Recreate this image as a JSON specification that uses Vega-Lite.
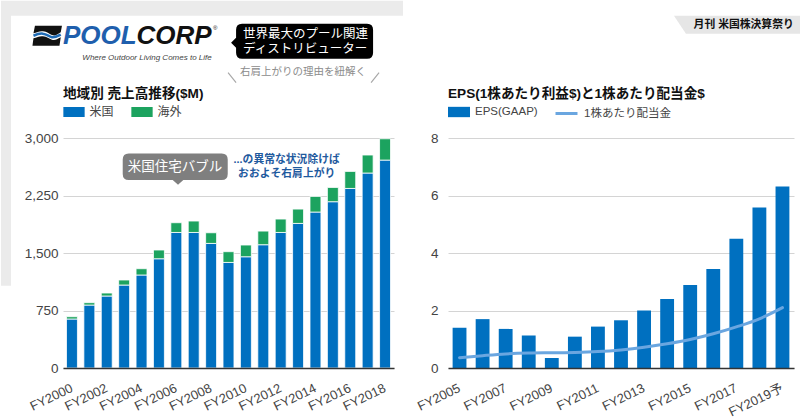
{
  "$schema": "https://vega.github.io/schema/vega-lite/v6.json",
  "padding": 0,
  "background": "white",
  "bounds": "flush",
  "spacing": 54,
  "resolve": {"legend": {"color": "independent", "fill": "independent", "stroke": "independent"}},
  "config": {
    "view": {"stroke": null},
    "font": "Liberation Sans, Noto Sans CJK JP, sans-serif",
    "axis": {"labelFont": "Liberation Sans, Noto Sans CJK JP, sans-serif", "labelColor": "#444", "ticks": false, "title": null},
    "legend": {"labelFont": "Liberation Sans, Noto Sans CJK JP, sans-serif", "labelColor": "#444", "padding": 0, "titlePadding": 0}
  },
  "hconcat": [
    {
      "width": 331,
      "height": 230,
      "data": {"values": [
        {"year": "FY2000", "region": "米国", "value": 639}, {"year": "FY2000", "region": "海外", "value": 30},
        {"year": "FY2001", "region": "米国", "value": 821}, {"year": "FY2001", "region": "海外", "value": 31},
        {"year": "FY2002", "region": "米国", "value": 939}, {"year": "FY2002", "region": "海外", "value": 39},
        {"year": "FY2003", "region": "米国", "value": 1082}, {"year": "FY2003", "region": "海外", "value": 66},
        {"year": "FY2004", "region": "米国", "value": 1213}, {"year": "FY2004", "region": "海外", "value": 82},
        {"year": "FY2005", "region": "米国", "value": 1425}, {"year": "FY2005", "region": "海外", "value": 114},
        {"year": "FY2006", "region": "米国", "value": 1768}, {"year": "FY2006", "region": "海外", "value": 127},
        {"year": "FY2007", "region": "米国", "value": 1768}, {"year": "FY2007", "region": "海外", "value": 149},
        {"year": "FY2008", "region": "米国", "value": 1625}, {"year": "FY2008", "region": "海外", "value": 139},
        {"year": "FY2009", "region": "米国", "value": 1377}, {"year": "FY2009", "region": "海外", "value": 140},
        {"year": "FY2010", "region": "米国", "value": 1451}, {"year": "FY2010", "region": "海外", "value": 153},
        {"year": "FY2011", "region": "米国", "value": 1608}, {"year": "FY2011", "region": "海外", "value": 178},
        {"year": "FY2012", "region": "米国", "value": 1768}, {"year": "FY2012", "region": "海外", "value": 175},
        {"year": "FY2013", "region": "米国", "value": 1886}, {"year": "FY2013", "region": "海外", "value": 187},
        {"year": "FY2014", "region": "米国", "value": 2034}, {"year": "FY2014", "region": "海外", "value": 204},
        {"year": "FY2015", "region": "米国", "value": 2169}, {"year": "FY2015", "region": "海外", "value": 186},
        {"year": "FY2016", "region": "米国", "value": 2342}, {"year": "FY2016", "region": "海外", "value": 222},
        {"year": "FY2017", "region": "米国", "value": 2543}, {"year": "FY2017", "region": "海外", "value": 235},
        {"year": "FY2018", "region": "米国", "value": 2712}, {"year": "FY2018", "region": "海外", "value": 278}
      ]},
      "layer": [
        {
          "data": {"values": [{}]},
          "mark": {"type": "point", "shape": "M-71,-137.3H331V-122.3H-61V147.7H-71Z", "size": 4, "filled": true, "fill": "#ebebeb", "strokeWidth": 0, "opacity": 1},
          "encoding": {
            "x": {"datum": "FY2000", "type": "nominal", "title": null},
            "y": {"datum": 3000, "type": "quantitative", "scale": {"domain": [0, 3000], "nice": false}, "title": null}
          }
        },
        {
          "mark": {"type": "bar", "stroke": "white", "strokeWidth": 0.8},
          "encoding": {
            "x": {"field": "year", "type": "nominal", "sort": null, "title": null,
              "scale": {"paddingInner": 0.37, "paddingOuter": 0.2},
              "axis": {"values": ["FY2000", "FY2002", "FY2004", "FY2006", "FY2008", "FY2010", "FY2012", "FY2014", "FY2016", "FY2018"],
                "labelAngle": -26, "labelAlign": "right", "labelBaseline": "middle", "labelPadding": 19, "labelFontSize": 13,
                "domainColor": "#333", "domainWidth": 1.5, "grid": false, "zindex": 1}},
            "y": {"field": "value", "type": "quantitative", "stack": "zero", "title": null,
              "scale": {"domain": [0, 3000], "nice": false},
              "axis": {"values": [0, 750, 1500, 2250, 3000], "labelExpr": "format(datum.value, ',')", "labelFontSize": 13.5, "labelPadding": 5,
                "domain": false, "grid": true, "gridColor": "#d4d4d4", "gridWidth": 1}},
            "color": {"field": "region", "type": "nominal", "sort": ["米国", "海外"],
              "scale": {"domain": ["米国", "海外"], "range": ["#0070c0", "#1ca35f"]},
              "legend": {"orient": "none", "legendX": 0, "legendY": -37, "direction": "horizontal", "title": null,
                "symbolType": "M-1,-0.47H1V0.47H-1Z", "symbolSize": 454, "symbolStrokeWidth": 0,
                "labelFontSize": 12, "labelOffset": 4.5, "columnPadding": 17}},
            "order": {"field": "region", "sort": "descending"}
          }
        },
        {
          "data": {"values": [{}]},
          "mark": {"type": "point", "shape": "M-37,-10L-10,-10L-11.2,-3.5C-15,-1 -17,0.5 -20,-0.8C-23,-2 -25,-4 -29,-4.5C-32,-5 -35,-3.5 -38.5,-2.5Z M-39.5,10L-12.5,10L-11.2,1.5C-15,3.5 -17,5 -20,4C-23,3 -25,1 -29,0.5C-32,0 -35,1.5 -38.5,2.5Z", "size": 4, "filled": true, "fill": "#111", "strokeWidth": 0, "opacity": 1},
          "encoding": {
            "x": {"datum": "FY2000", "type": "nominal", "title": null},
            "y": {"datum": 4334, "type": "quantitative", "scale": {"domain": [0, 3000], "nice": false}, "title": null}
          }
        },
        {
          "data": {"values": [{}]},
          "mark": {"type": "point", "shape": "M-38.5,0C-35,-1.5 -32,-2.5 -29,-2C-25,-1.5 -23,1 -20,1.5C-17,2 -14,0.5 -11.2,-1", "size": 4, "filled": false, "stroke": "#1f6bb5", "strokeWidth": 2.5, "opacity": 1},
          "encoding": {
            "x": {"datum": "FY2000", "type": "nominal", "title": null},
            "y": {"datum": 4334, "type": "quantitative", "scale": {"domain": [0, 3000], "nice": false}, "title": null}
          }
        },
        {
          "data": {"values": [{}]},
          "mark": {"type": "text", "text": "POOL", "align": "left", "baseline": "middle", "dx": -9, "font": "Liberation Sans", "fontSize": 26, "fontWeight": "bold", "fontStyle": "italic", "fill": "#1f5fad"},
          "encoding": {
            "x": {"datum": "FY2000", "type": "nominal", "title": null},
            "y": {"datum": 4334, "type": "quantitative", "scale": {"domain": [0, 3000], "nice": false}, "title": null}
          }
        },
        {
          "data": {"values": [{}]},
          "mark": {"type": "text", "text": "CORP", "align": "left", "baseline": "middle", "dx": -5, "font": "Liberation Sans", "fontSize": 26, "fontWeight": "bold", "fontStyle": "italic", "fill": "#111"},
          "encoding": {
            "x": {"datum": "FY2004", "type": "nominal", "title": null},
            "y": {"datum": 4334, "type": "quantitative", "scale": {"domain": [0, 3000], "nice": false}, "title": null}
          }
        },
        {
          "data": {"values": [{}]},
          "mark": {"type": "text", "text": "®", "align": "center", "baseline": "middle", "dx": 4, "fontSize": 6, "fill": "#111"},
          "encoding": {
            "x": {"datum": "FY2008", "type": "nominal", "title": null},
            "y": {"datum": 4439, "type": "quantitative", "scale": {"domain": [0, 3000], "nice": false}, "title": null}
          }
        },
        {
          "data": {"values": [{}]},
          "mark": {"type": "text", "text": "Where Outdoor Living Comes to Life", "align": "center", "baseline": "middle", "dx": 5.5, "font": "Liberation Sans", "fontSize": 8, "fontStyle": "italic", "fill": "#444"},
          "encoding": {
            "x": {"datum": "FY2004", "type": "nominal", "title": null},
            "y": {"datum": 4047, "type": "quantitative", "scale": {"domain": [0, 3000], "nice": false}, "title": null}
          }
        },
        {
          "data": {"values": [{}]},
          "mark": {"type": "point", "shape": "M-56,-17.5H69Q75,-17.5 75,-11.5V11.5Q75,17.5 69,17.5H-56Q-62,17.5 -62,11.5V6.5L-67,1.5L-62,-3.5V-11.5Q-62,-17.5 -56,-17.5Z", "size": 4, "filled": true, "fill": "#000", "strokeWidth": 0, "opacity": 1},
          "encoding": {
            "x": {"datum": "FY2013", "type": "nominal", "title": null},
            "y": {"datum": 4262.6, "type": "quantitative", "scale": {"domain": [0, 3000], "nice": false}, "title": null}
          }
        },
        {
          "data": {"values": [{}]},
          "mark": {"type": "text", "text": "世界最大のプール関連", "align": "left", "baseline": "middle", "dx": -55, "fontSize": 12.5, "fill": "white"},
          "encoding": {
            "x": {"datum": "FY2013", "type": "nominal", "title": null},
            "y": {"datum": 4356.5, "type": "quantitative", "scale": {"domain": [0, 3000], "nice": false}, "title": null}
          }
        },
        {
          "data": {"values": [{}]},
          "mark": {"type": "text", "text": "ディストリビューター", "align": "left", "baseline": "middle", "dx": -55, "fontSize": 12.5, "fill": "white"},
          "encoding": {
            "x": {"datum": "FY2013", "type": "nominal", "title": null},
            "y": {"datum": 4160.9, "type": "quantitative", "scale": {"domain": [0, 3000], "nice": false}, "title": null}
          }
        },
        {
          "data": {"values": [{}]},
          "mark": {"type": "text", "text": "右肩上がりの理由を紐解く", "align": "center", "baseline": "middle", "dx": 5, "fontSize": 10.5, "fill": "#8c8c8c"},
          "encoding": {
            "x": {"datum": "FY2013", "type": "nominal", "title": null},
            "y": {"datum": 3864.8, "type": "quantitative", "scale": {"domain": [0, 3000], "nice": false}, "title": null}
          }
        },
        {
          "data": {"values": [{}]},
          "mark": {"type": "point", "shape": "M-70,1L-62,11M73,11L81,1", "size": 4, "filled": false, "stroke": "#a8a8a8", "strokeWidth": 1.2, "opacity": 1},
          "encoding": {
            "x": {"datum": "FY2013", "type": "nominal", "title": null},
            "y": {"datum": 3864.8, "type": "quantitative", "scale": {"domain": [0, 3000], "nice": false}, "title": null}
          }
        },
        {
          "data": {"values": [{}]},
          "mark": {"type": "text", "text": "地域別 売上高推移($M)", "align": "left", "baseline": "middle", "dx": -9, "fontSize": 13.6, "fontWeight": "bold", "fill": "#111"},
          "encoding": {
            "x": {"datum": "FY2000", "type": "nominal", "title": null},
            "y": {"datum": 3580, "type": "quantitative", "scale": {"domain": [0, 3000], "nice": false}, "title": null}
          }
        },
        {
          "data": {"values": [{}]},
          "mark": {"type": "point", "shape": "M-47.6,-13.3H45.4Q51.4,-13.3 51.4,-7.3V7.3Q51.4,13.3 45.4,13.3H7L1.7,18L-3.6,13.3H-47.6Q-53.6,13.3 -53.6,7.3V-7.3Q-53.6,-13.3 -47.6,-13.3Z", "size": 4, "filled": true, "fill": "#7f7f7f", "strokeWidth": 0, "opacity": 1},
          "encoding": {
            "x": {"datum": "FY2006", "type": "nominal", "title": null},
            "y": {"datum": 2625.7, "type": "quantitative", "scale": {"domain": [0, 3000], "nice": false}, "title": null}
          }
        },
        {
          "data": {"values": [{}]},
          "mark": {"type": "text", "text": "米国住宅バブル", "align": "center", "baseline": "middle", "dx": -1.3, "fontSize": 13.5, "fill": "white"},
          "encoding": {
            "x": {"datum": "FY2006", "type": "nominal", "title": null},
            "y": {"datum": 2625.7, "type": "quantitative", "scale": {"domain": [0, 3000], "nice": false}, "title": null}
          }
        },
        {
          "data": {"values": [{}]},
          "mark": {"type": "text", "text": "...の異常な状況除けば", "align": "center", "baseline": "middle", "dx": 6, "fontSize": 10.8, "fontWeight": "bold", "fill": "#1f5a9e"},
          "encoding": {
            "x": {"datum": "FY2012", "type": "nominal", "title": null},
            "y": {"datum": 2717, "type": "quantitative", "scale": {"domain": [0, 3000], "nice": false}, "title": null}
          }
        },
        {
          "data": {"values": [{}]},
          "mark": {"type": "text", "text": "おおよそ右肩上がり", "align": "center", "baseline": "middle", "dx": 6, "fontSize": 10.8, "fontWeight": "bold", "fill": "#1f5a9e"},
          "encoding": {
            "x": {"datum": "FY2012", "type": "nominal", "title": null},
            "y": {"datum": 2534.5, "type": "quantitative", "scale": {"domain": [0, 3000], "nice": false}, "title": null}
          }
        }
      ]
    },
    {
      "width": 346,
      "height": 230,
      "data": {"values": [
        {"year": "FY2005", "eps": 1.40, "div": 0.36},
        {"year": "FY2006", "eps": 1.70, "div": 0.43},
        {"year": "FY2007", "eps": 1.36, "div": 0.49},
        {"year": "FY2008", "eps": 1.13, "div": 0.52},
        {"year": "FY2009", "eps": 0.35, "div": 0.53},
        {"year": "FY2010", "eps": 1.09, "div": 0.54},
        {"year": "FY2011", "eps": 1.44, "div": 0.57},
        {"year": "FY2012", "eps": 1.66, "div": 0.63},
        {"year": "FY2013", "eps": 2.00, "div": 0.72},
        {"year": "FY2014", "eps": 2.40, "div": 0.84},
        {"year": "FY2015", "eps": 2.89, "div": 0.99},
        {"year": "FY2016", "eps": 3.44, "div": 1.19},
        {"year": "FY2017", "eps": 4.50, "div": 1.43},
        {"year": "FY2018", "eps": 5.58, "div": 1.71},
        {"year": "FY2019予", "eps": 6.31, "div": 2.10}
      ]},
      "layer": [
        {
          "mark": {"type": "bar"},
          "encoding": {
            "x": {"field": "year", "type": "nominal", "sort": null, "title": null,
              "scale": {"paddingInner": 0.4, "paddingOuter": 0.2},
              "axis": {"values": ["FY2005", "FY2007", "FY2009", "FY2011", "FY2013", "FY2015", "FY2017", "FY2019予"],
                "labelAngle": -26, "labelAlign": "right", "labelBaseline": "middle", "labelPadding": 19, "labelFontSize": 13,
                "domainColor": "#333", "domainWidth": 1.5, "grid": false, "zindex": 1}},
            "y": {"field": "eps", "type": "quantitative", "title": null,
              "scale": {"domain": [0, 8], "nice": false},
              "axis": {"values": [0, 2, 4, 6, 8], "labelFontSize": 13.5, "labelPadding": 10,
                "domain": false, "grid": true, "gridColor": "#d4d4d4", "gridWidth": 1}},
            "fill": {"datum": "EPS(GAAP)", "type": "nominal",
              "scale": {"domain": ["EPS(GAAP)"], "range": ["#0070c0"]},
              "legend": {"orient": "none", "legendX": 0, "legendY": -37, "title": null,
                "symbolType": "M-1,-0.47H1V0.47H-1Z", "symbolSize": 484, "symbolStrokeWidth": 0,
                "labelFontSize": 11.5, "labelOffset": 5}}
          }
        },
        {
          "mark": {"type": "line", "interpolate": "monotone", "strokeWidth": 3, "strokeCap": "round"},
          "encoding": {
            "x": {"field": "year", "type": "nominal", "sort": null, "title": null},
            "y": {"field": "div", "type": "quantitative", "title": null, "scale": {"domain": [0, 8], "nice": false}},
            "stroke": {"datum": "1株あたり配当金", "type": "nominal",
              "scale": {"domain": ["1株あたり配当金"], "range": ["#6aa6e0"]},
              "legend": {"orient": "none", "legendX": 106, "legendY": -37, "title": null,
                "symbolType": "stroke", "symbolSize": 484, "symbolStrokeWidth": 3,
                "labelFontSize": 11.5, "labelOffset": 5}}
          }
        },
        {
          "data": {"values": [{}]},
          "mark": {"type": "text", "text": "EPS(1株あたり利益$)と1株あたり配当金$", "align": "left", "baseline": "middle", "dx": -11.5, "fontSize": 13.6, "fontWeight": "bold", "fill": "#111"},
          "encoding": {
            "x": {"datum": "FY2005", "type": "nominal", "title": null},
            "y": {"datum": 9.54, "type": "quantitative", "scale": {"domain": [0, 8], "nice": false}, "title": null}
          }
        },
        {
          "data": {"values": [{}]},
          "mark": {"type": "point", "shape": "M-108.5,-9H18.5V9H-96.5Z", "size": 4, "filled": true, "fill": "#e6e6e6", "strokeWidth": 0, "opacity": 1},
          "encoding": {
            "x": {"datum": "FY2019予", "type": "nominal", "title": null},
            "y": {"datum": 11.941, "type": "quantitative", "scale": {"domain": [0, 8], "nice": false}, "title": null}
          }
        },
        {
          "data": {"values": [{}]},
          "mark": {"type": "text", "text": "月刊 米国株決算祭り", "align": "center", "baseline": "middle", "dx": -38.8, "fontSize": 10.8, "fontWeight": "bold", "fill": "#111"},
          "encoding": {
            "x": {"datum": "FY2019予", "type": "nominal", "title": null},
            "y": {"datum": 11.941, "type": "quantitative", "scale": {"domain": [0, 8], "nice": false}, "title": null}
          }
        }
      ]
    }
  ]
}
